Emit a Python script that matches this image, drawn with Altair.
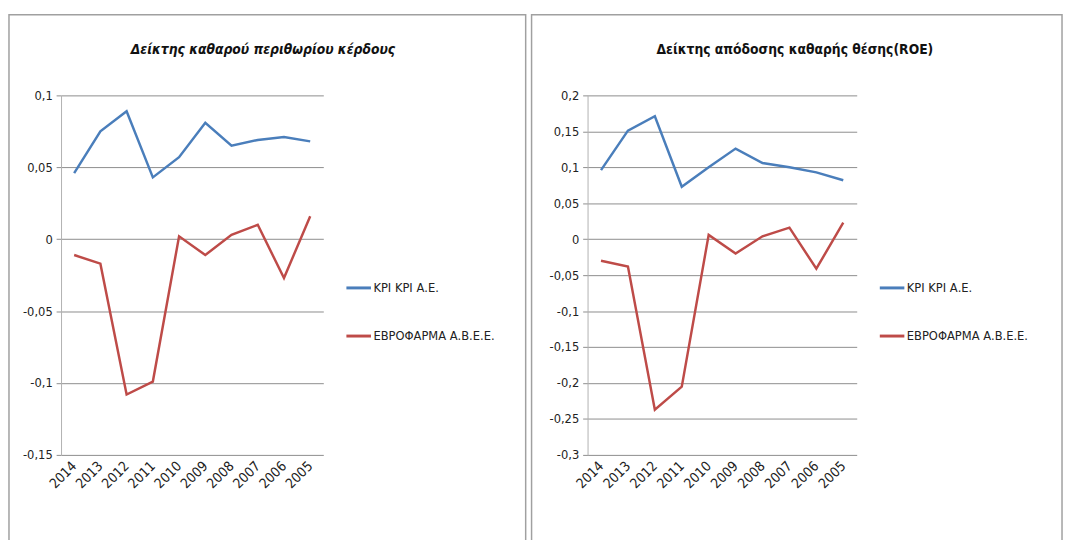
import altair as alt
import pandas as pd

years = ["2014", "2013", "2012", "2011", "2010", "2009", "2008", "2007", "2006", "2005"]
series = ["ΚΡΙ ΚΡΙ Α.Ε.", "ΕΒΡΟΦΑΡΜΑ Α.Β.Ε.Ε."]

npm_kri = [0.046, 0.075, 0.089, 0.043, 0.057, 0.081, 0.065, 0.069, 0.071, 0.068]
npm_evro = [-0.011, -0.017, -0.108, -0.099, 0.002, -0.011, 0.003, 0.010, -0.027, 0.016]
roe_kri = [0.096, 0.151, 0.171, 0.073, 0.100, 0.126, 0.106, 0.100, 0.093, 0.082]
roe_evro = [-0.030, -0.038, -0.237, -0.205, 0.006, -0.020, 0.004, 0.016, -0.041, 0.023]

npm_ticks = [-0.15, -0.1, -0.05, 0, 0.05, 0.1]
roe_ticks = [-0.3, -0.25, -0.2, -0.15, -0.1, -0.05, 0, 0.05, 0.1, 0.15, 0.2]

title_npm = "Δείκτης καθαρού περιθωρίου κέρδους"
title_roe = "Δείκτης απόδοσης καθαρής θέσης(ROE)"

BLUE = "#4A7EBB"
RED = "#BE4B48"
FONT = "'Liberation Sans Narrow', 'DejaVu Sans Condensed', sans-serif"


def long_df(a, b):
    return pd.DataFrame({
        "year": years * 2,
        "series": [series[0]] * len(years) + [series[1]] * len(years),
        "value": a + b,
    })


def panel(df, title, ticks, width, height, frame_x, frame_x2, title_dx, italic):
    color = alt.Color(
        "series:N",
        sort=series,
        scale=alt.Scale(domain=series, range=[BLUE, RED]),
        legend=alt.Legend(
            title=None, orient="none", legendX=width + 22, legendY=182,
            symbolType="stroke", symbolStrokeWidth=3, symbolSize=625,
            labelFont=FONT, labelFontSize=13, labelColor="#222",
            rowPadding=28, labelOffset=1,
        ),
    )
    lines = alt.Chart(df).mark_line(strokeWidth=2.5).encode(
        x=alt.X("year:O", sort=years, title=None,
                scale=alt.Scale(paddingOuter=0.25),
                axis=alt.Axis(labelAngle=-45, labelAlign="right", labelBaseline="middle",
                              labelPadding=9, labelFontSize=14, ticks=False, domain=False,
                              grid=False)),
        y=alt.Y("value:Q", title=None,
                scale=alt.Scale(domain=[ticks[0], ticks[-1]], nice=False, zero=False),
                axis=alt.Axis(values=ticks,
                              labelExpr="replace(toString(round(datum.value*100)/100), '.', ',')",
                              grid=True, gridColor="#8c8c8c", tickColor="#8c8c8c",
                              domainColor="#b0b0b0", tickSize=5, labelPadding=4)),
        color=color,
    )
    frame = alt.Chart(pd.DataFrame({"k": [0]})).mark_rect(
        fillOpacity=0, stroke="#a0a0a0", strokeWidth=1.5
    ).encode(
        x=alt.value(frame_x), x2=alt.value(frame_x2),
        y=alt.value(-82), y2=alt.value(height + 100),
    )
    return alt.layer(frame, lines).properties(
        width=width, height=height,
        title=alt.TitleParams(title, font=FONT, fontSize=14, fontWeight="bold",
                              fontStyle="italic" if italic else "normal",
                              color="#111", anchor="middle", frame="group",
                              dx=title_dx, offset=-44),
    )


left = panel(long_df(npm_kri, npm_evro), title_npm, npm_ticks, 267, 366, -53, 473, 72, True)
right = panel(long_df(roe_kri, roe_evro), title_roe, roe_ticks, 274, 366, -57, 483, 74, False)

chart = alt.hconcat(left, right, spacing=4).resolve_scale(color="independent").properties(
    padding={"left": 0, "top": 1, "right": 0, "bottom": 0}
).configure_view(stroke=None).configure_axis(
    labelFont=FONT, labelFontSize=13, labelColor="#222"
)

chart.save("out.html", embed_options={"renderer": "svg", "actions": False})
